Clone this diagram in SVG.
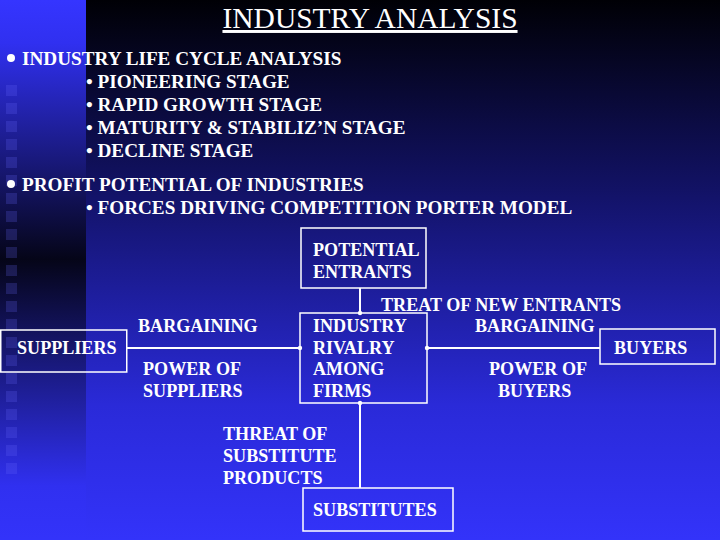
<svg xmlns="http://www.w3.org/2000/svg" width="720" height="540" viewBox="0 0 720 540">
  <defs>
    <linearGradient id="bgMain" x1="0" y1="0" x2="0" y2="1">
      <stop offset="0" stop-color="#000005"/>
      <stop offset="0.35" stop-color="#121265"/>
      <stop offset="0.75" stop-color="#2a2ad8"/>
      <stop offset="1" stop-color="#3333fa"/>
    </linearGradient>
    <linearGradient id="bgStrip" x1="0" y1="0" x2="0" y2="1">
      <stop offset="0" stop-color="#3535ff"/>
      <stop offset="0.08" stop-color="#3030f0"/>
      <stop offset="0.48" stop-color="#050518"/>
      <stop offset="0.9" stop-color="#3030f0"/>
      <stop offset="1" stop-color="#3333fa"/>
    </linearGradient>
    <marker id="dot" viewBox="0 0 6 6" refX="3" refY="3" markerWidth="6" markerHeight="6" markerUnits="userSpaceOnUse">
      <circle cx="3" cy="3" r="2.2" fill="#ffffff"/>
    </marker>
    <style>
      .body { font-family: "Liberation Serif", "Times New Roman", serif; font-weight: bold; font-size: 19.2px; fill: #ffffff; }
      .lbl { font-family: "Liberation Serif", "Times New Roman", serif; font-weight: bold; font-size: 18.1px; fill: #ffffff; }
      .title { font-family: "Liberation Serif", "Times New Roman", serif; font-size: 29.5px; fill: #ffffff; }
      .box { fill: none; stroke: #ffffff; stroke-width: 1.5; }
      .conn { fill: none; stroke: #ffffff; stroke-width: 2; marker-end: url(#dot); }
      .sq { fill: #6a6aff; opacity: 0.22; }
    </style>
  </defs>

  <!-- background -->
  <rect x="0" y="0" width="720" height="540" fill="url(#bgMain)"/>
  <rect x="0" y="0" width="86" height="540" fill="url(#bgStrip)"/>
  <g id="squares">
    <rect class="sq" x="6" y="85" width="11" height="11"/>
    <rect class="sq" x="6" y="103" width="11" height="11"/>
    <rect class="sq" x="6" y="121" width="11" height="11"/>
    <rect class="sq" x="6" y="139" width="11" height="11"/>
    <rect class="sq" x="6" y="157" width="11" height="11"/>
    <rect class="sq" x="6" y="175" width="11" height="11"/>
    <rect class="sq" x="6" y="193" width="11" height="11"/>
    <rect class="sq" x="6" y="211" width="11" height="11"/>
    <rect class="sq" x="6" y="229" width="11" height="11"/>
    <rect class="sq" x="6" y="247" width="11" height="11"/>
    <rect class="sq" x="6" y="265" width="11" height="11"/>
    <rect class="sq" x="6" y="283" width="11" height="11"/>
    <rect class="sq" x="6" y="301" width="11" height="11"/>
    <rect class="sq" x="6" y="319" width="11" height="11"/>
    <rect class="sq" x="6" y="337" width="11" height="11"/>
    <rect class="sq" x="6" y="355" width="11" height="11"/>
    <rect class="sq" x="6" y="373" width="11" height="11"/>
    <rect class="sq" x="6" y="391" width="11" height="11"/>
    <rect class="sq" x="6" y="409" width="11" height="11"/>
    <rect class="sq" x="6" y="427" width="11" height="11"/>
    <rect class="sq" x="6" y="445" width="11" height="11"/>
    <rect class="sq" x="6" y="463" width="11" height="11"/>
  </g>

  <!-- title -->
  <text class="title" x="370" y="28" text-anchor="middle" text-decoration="underline">INDUSTRY ANALYSIS</text>

  <!-- bullet list -->
  <g id="list">
    <circle cx="11" cy="58" r="4" fill="#ffffff"/>
    <text class="body" x="22" y="65">INDUSTRY LIFE CYCLE ANALYSIS</text>
    <text class="body" x="86" y="88">• PIONEERING STAGE</text>
    <text class="body" x="86" y="111">• RAPID GROWTH STAGE</text>
    <text class="body" x="86" y="134">• MATURITY &amp; STABILIZ’N STAGE</text>
    <text class="body" x="86" y="157">• DECLINE STAGE</text>
    <circle cx="11" cy="184" r="4" fill="#ffffff"/>
    <text class="body" x="22" y="191">PROFIT POTENTIAL OF INDUSTRIES</text>
    <text class="body" x="86" y="214">• FORCES DRIVING COMPETITION PORTER MODEL</text>
  </g>

  <!-- connectors -->
  <g id="connectors">
    <line class="conn" x1="360" y1="288" x2="360" y2="313"/>
    <line class="conn" x1="127" y1="348" x2="300" y2="348"/>
    <line class="conn" x1="600" y1="348" x2="427" y2="348"/>
    <line class="conn" x1="360" y1="488" x2="360" y2="403"/>
  </g>

  <!-- nodes -->
  <g id="potential-entrants">
    <rect class="box" x="301" y="228" width="125" height="60"/>
    <text class="lbl" x="313" y="256">POTENTIAL</text>
    <text class="lbl" x="313" y="278">ENTRANTS</text>
  </g>
  <g id="industry-rivalry">
    <rect class="box" x="300" y="313" width="127" height="90"/>
    <text class="lbl" x="313" y="332">INDUSTRY</text>
    <text class="lbl" x="313" y="354">RIVALRY</text>
    <text class="lbl" x="313" y="375">AMONG</text>
    <text class="lbl" x="313" y="397">FIRMS</text>
  </g>
  <g id="suppliers">
    <rect class="box" x="0.75" y="330" width="126" height="42"/>
    <text class="lbl" x="17" y="354">SUPPLIERS</text>
  </g>
  <g id="buyers">
    <rect class="box" x="600" y="329" width="115" height="35"/>
    <text class="lbl" x="614" y="354">BUYERS</text>
  </g>
  <g id="substitutes">
    <rect class="box" x="303" y="488" width="150" height="43"/>
    <text class="lbl" x="313" y="516">SUBSTITUTES</text>
  </g>

  <!-- connector labels -->
  <g id="labels">
    <text class="lbl" x="381" y="311">TREAT OF NEW ENTRANTS</text>
    <text class="lbl" x="138" y="332">BARGAINING</text>
    <text class="lbl" x="143" y="375">POWER OF</text>
    <text class="lbl" x="143" y="397">SUPPLIERS</text>
    <text class="lbl" x="475" y="332">BARGAINING</text>
    <text class="lbl" x="489" y="375">POWER OF</text>
    <text class="lbl" x="498" y="397">BUYERS</text>
    <text class="lbl" x="223" y="440">THREAT OF</text>
    <text class="lbl" x="223" y="462">SUBSTITUTE</text>
    <text class="lbl" x="223" y="484">PRODUCTS</text>
  </g>
</svg>
